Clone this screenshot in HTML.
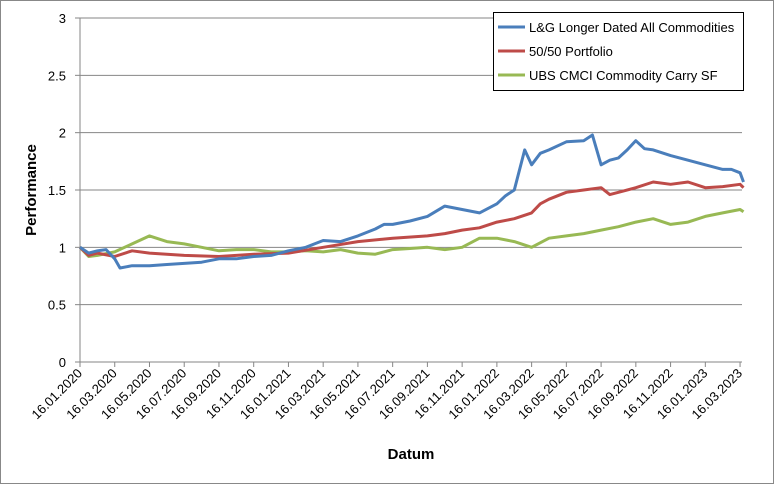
<!DOCTYPE html>
<html><head><meta charset="utf-8"><style>
body{margin:0;background:#fff}
svg{display:block;font-family:"Liberation Sans",sans-serif}
</style></head><body>
<svg id="c" width="774" height="484">
<rect x="0.5" y="0.5" width="773" height="483" fill="#fff" stroke="#888"/>
<g id="grid"></g><g id="axes"></g><g id="series"></g>
<text x="36" y="190" transform="rotate(-90 36 190)" text-anchor="middle" font-weight="bold" font-size="15">Performance</text>
<text x="411" y="459" text-anchor="middle" font-weight="bold" font-size="15">Datum</text>
<g>
<rect x="493.5" y="12.5" width="250" height="78" fill="#fff" stroke="#000"/>
<line x1="498" y1="27" x2="525" y2="27" stroke="#4a7ebb" stroke-width="3"/>
<text x="529" y="32" font-size="13">L&amp;G Longer Dated All Commodities</text>
<line x1="498" y1="51" x2="525" y2="51" stroke="#be4b48" stroke-width="3"/>
<text x="529" y="56" font-size="13">50/50 Portfolio</text>
<line x1="498" y1="75" x2="525" y2="75" stroke="#98b954" stroke-width="3"/>
<text x="529" y="80" font-size="13">UBS CMCI Commodity Carry SF</text>
</g>
</svg>
<script>
const xTicks=["16.01.2020","16.03.2020","16.05.2020","16.07.2020","16.09.2020","16.11.2020","16.01.2021","16.03.2021","16.05.2021","16.07.2021","16.09.2021","16.11.2021","16.01.2022","16.03.2022","16.05.2022","16.07.2022","16.09.2022","16.11.2022","16.01.2023","16.03.2023"];
const yTicks=[0,0.5,1,1.5,2,2.5,3];
const blueM=[0,0.5,1,1.5,2,2.3,3,4,5,6,7,8,9,10,11,12,13,13.5,14,15,16,17,17.5,18,19,20,21,22,23,24,24.5,25,25.6,26,26.5,27,28,29,29.5,30,30.5,31,31.5,32,32.5,33,34,35,36,37,37.5,38,38.2];
const blueV=[1.0,0.95,0.97,0.98,0.9,0.82,0.84,0.84,0.85,0.86,0.87,0.9,0.9,0.92,0.93,0.97,1.0,1.03,1.06,1.05,1.1,1.16,1.2,1.2,1.23,1.27,1.36,1.33,1.3,1.38,1.45,1.5,1.85,1.72,1.82,1.85,1.92,1.93,1.98,1.72,1.76,1.78,1.85,1.93,1.86,1.85,1.8,1.76,1.72,1.68,1.68,1.65,1.57];
const redM=[0,0.5,1,2,3,4,6,8,10,12,14,16,18,20,21,22,23,24,25,26,26.5,27,28,29,30,30.5,31,32,33,34,35,36,37,38,38.2];
const redV=[1.0,0.93,0.95,0.92,0.97,0.95,0.93,0.92,0.94,0.95,1.0,1.05,1.08,1.1,1.12,1.15,1.17,1.22,1.25,1.3,1.38,1.42,1.48,1.5,1.52,1.46,1.48,1.52,1.57,1.55,1.57,1.52,1.53,1.55,1.52];
const greenM=[0,0.5,1,2,3,4,5,6,7,8,9,10,11,12,13,14,15,16,17,18,19,20,21,22,23,24,25,26,27,28,29,30,31,32,33,34,35,36,37,38,38.2];
const greenV=[1.0,0.92,0.93,0.96,1.03,1.1,1.05,1.03,1.0,0.97,0.98,0.98,0.96,0.96,0.97,0.96,0.98,0.95,0.94,0.98,0.99,1.0,0.98,1.0,1.08,1.08,1.05,1.0,1.08,1.1,1.12,1.15,1.18,1.22,1.25,1.2,1.22,1.27,1.3,1.33,1.31];
const ns="http://www.w3.org/2000/svg";
const X0=80,X1=742,Y0=362,Y3=18,pxPerMonth=17.37;
const xS=m=>X0+m*pxPerMonth;
const yS=v=>Y0-(v/3)*(Y0-Y3);
function mk(tag,attrs,parent){const e=document.createElementNS(ns,tag);for(const k in attrs)e.setAttribute(k,attrs[k]);parent.appendChild(e);return e;}
const grid=document.getElementById('grid'),axes=document.getElementById('axes'),ser=document.getElementById('series');
yTicks.forEach(v=>{
 if(v>0){const g=mk('line',{x1:X0,x2:X1,y1:yS(v),y2:yS(v),stroke:'#868686'},grid);
 
 }
 mk('line',{x1:X0-5,x2:X0,y1:yS(v),y2:yS(v),stroke:'#868686'},axes);
 const t=mk('text',{x:X0-14,y:yS(v)+5,'text-anchor':'end','font-size':13},axes);t.textContent=String(v);
 
 
});
mk('line',{x1:X0,x2:X0,y1:Y3,y2:Y0,stroke:'#868686'},axes);
mk('line',{x1:X0,x2:X1,y1:Y0,y2:Y0,stroke:'#868686'},axes);
xTicks.forEach((s,i)=>{
 const x=xS(i*2);
 mk('line',{x1:x,x2:x,y1:Y0,y2:Y0+5,stroke:'#868686'},axes);
 const t=mk('text',{x:x+3,y:Y0+12,'text-anchor':'end','font-size':13,transform:`rotate(-45 ${x+3} ${Y0+12})`},axes);t.textContent=s;
 
 
});
function line(M,V,color,name){
 const d=M.map((m,i)=>(i?'L':'M')+xS(m).toFixed(1)+' '+yS(V[i]).toFixed(1)).join(' ');
 const p=mk('path',{d,fill:'none',stroke:color,'stroke-width':3,'stroke-linejoin':'round'},ser);
 
 
}
line(greenM,greenV,'#98b954','series-ubs-cmci');
line(redM,redV,'#be4b48','series-5050-portfolio');
line(blueM,blueV,'#4a7ebb','series-lg-longer-dated');
</script>
</body></html>
